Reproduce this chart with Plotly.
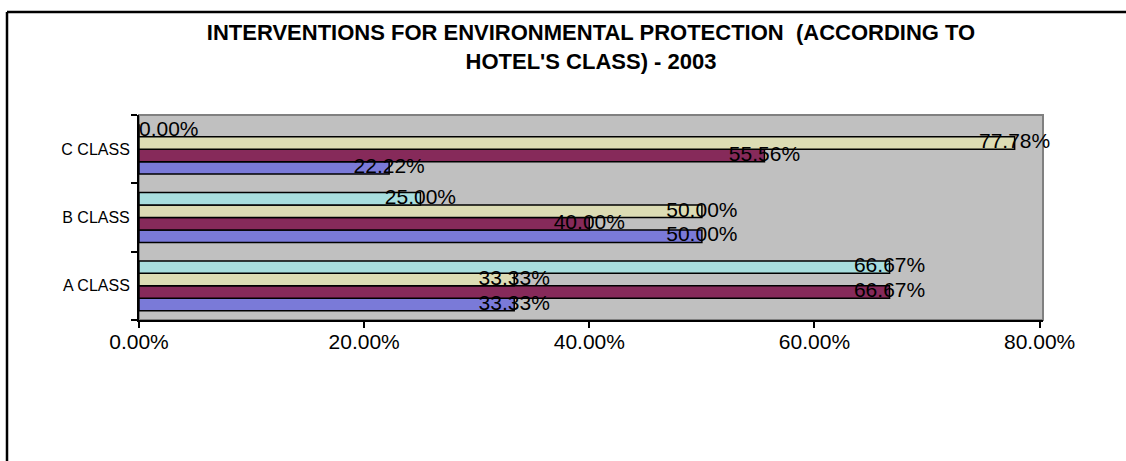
import plotly.graph_objects as go

categories = ["A CLASS", "B CLASS", "C CLASS"]
series_names = ["Series 1", "Series 2", "Series 3", "Series 4"]
series_1 = [33.33, 50.00, 22.22]
series_2 = [66.67, 40.00, 55.56]
series_3 = [33.33, 50.00, 77.78]
series_4 = [66.67, 25.00, 0.00]
x_ticks = [0, 20, 40, 60, 80]
x_tick_labels = ["0.00%", "20.00%", "40.00%", "60.00%", "80.00%"]

all_series = [series_1, series_2, series_3, series_4]
colors = ["#7a7ad8", "#862a5a", "#dcdcb4", "#a8dede"]

W, H = 1126, 461
ML, MR, MT, MB = 139, 83, 115, 141
BARGAP = 0.27
FONT = "Arial, Liberation Sans, sans-serif"

fig = go.Figure()
for name, vals, col in zip(series_names, all_series, colors):
    fig.add_trace(go.Bar(
        x=vals, y=categories, orientation="h", name=name,
        marker=dict(color=col, line=dict(color="black", width=1.5)),
        hoverinfo="x+y", yaxis="y",
    ))

n = len(all_series)
w = (1 - BARGAP) / n
for i, vals in enumerate(all_series):
    ypos = [ci - (1 - BARGAP) / 2 + w * (i + 0.5) for ci in range(len(categories))]
    fig.add_trace(go.Scatter(
        x=vals, y=ypos, yaxis="y2", mode="text",
        text=[f"{v:.2f}%" for v in vals],
        textposition=["middle right" if v == 0 else "middle center" for v in vals],
        textfont=dict(family=FONT, size=21, color="black"),
        cliponaxis=False, showlegend=False, hoverinfo="skip",
    ))

plot_w = W - ML - MR
plot_h = H - MT - MB

def px_x(p):
    return (p - ML) / plot_w

def px_y(p):
    return (H - MB - p) / plot_h

fig.update_layout(
    width=W, height=H,
    margin=dict(l=ML, r=MR, t=MT, b=MB, pad=0),
    paper_bgcolor="white",
    plot_bgcolor="#c0c0c0",
    barmode="group", bargap=BARGAP, bargroupgap=0,
    showlegend=False,
    title=dict(
        text="INTERVENTIONS FOR ENVIRONMENTAL PROTECTION  (ACCORDING TO<br>HOTEL'S CLASS) - 2003",
        x=0.5, xref="paper", xanchor="center",
        y=1 - 40 / H, yref="container", yanchor="middle",
        font=dict(family=FONT, size=22, color="black", weight="bold"),
    ),
    xaxis=dict(
        range=[0, 80.3], tickvals=x_ticks, ticktext=x_tick_labels,
        showgrid=False, zeroline=False,
        showline=True, linecolor="black", linewidth=2,
        ticks="outside", ticklen=6, tickcolor="black", tickwidth=2,
        ticklabelstandoff=-4,
        tickfont=dict(family=FONT, size=21, color="black"),
    ),
    yaxis=dict(
        type="category", categoryorder="array", categoryarray=categories,
        range=[-0.5, 2.5], tickson="boundaries",
        showgrid=False, zeroline=False,
        showline=True, linecolor="black", linewidth=2,
        ticks="outside", ticklen=6, tickcolor="black", tickwidth=2,
        ticklabelstandoff=4,
        tickfont=dict(family=FONT, size=16, color="black"),
    ),
    yaxis2=dict(overlaying="y", range=[-0.5, 2.5], visible=False),
    shapes=[
        dict(type="rect", xref="x domain", yref="y domain", x0=0, x1=1, y0=0, y1=1,
             line=dict(color="#808080", width=2), layer="below"),
        dict(type="line", xref="paper", yref="paper",
             x0=px_x(7), x1=px_x(W + 5), y0=px_y(12), y1=px_y(12),
             line=dict(color="black", width=2.5)),
        dict(type="line", xref="paper", yref="paper",
             x0=px_x(7), x1=px_x(7), y0=px_y(12), y1=px_y(H + 5),
             line=dict(color="black", width=2.5)),
    ],
)

fig.write_html("out.html")
